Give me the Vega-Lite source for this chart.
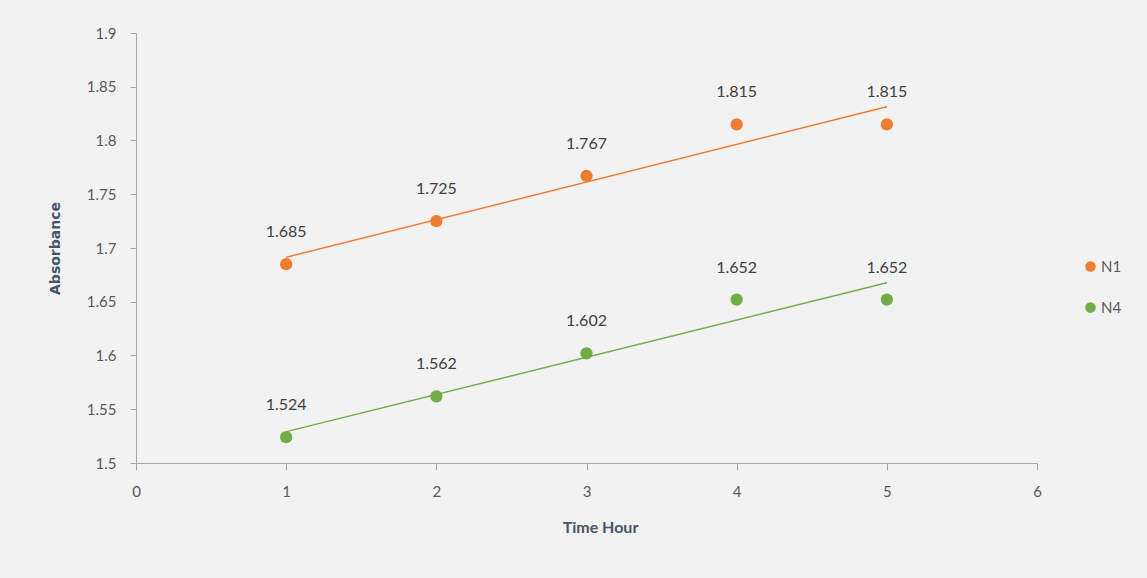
{
  "$schema": "https://vega.github.io/schema/vega-lite/v6.json",
  "width": 901,
  "height": 430,
  "autosize": "none",
  "padding": {"left": 136, "top": 33, "right": 110, "bottom": 115},
  "background": "#f2f2f2",
  "config": {
    "view": {"stroke": null},
    "font": "Lato",
    "axis": {
      "grid": false,
      "domainColor": "#a6a6a6",
      "tickColor": "#a6a6a6",
      "labelColor": "#595959",
      "labelFontSize": 15,
      "labelFont": "Lato",
      "labelOverlap": false,
      "titleColor": "#44546a",
      "titleFont": "Lato",
      "titleFontSize": 16,
      "titleFontWeight": "bold"
    }
  },
  "data": {
    "values": [
      {"hour": 1, "absorbance": 1.685, "series": "N1"},
      {"hour": 2, "absorbance": 1.725, "series": "N1"},
      {"hour": 3, "absorbance": 1.767, "series": "N1"},
      {"hour": 4, "absorbance": 1.815, "series": "N1"},
      {"hour": 5, "absorbance": 1.815, "series": "N1"},
      {"hour": 1, "absorbance": 1.524, "series": "N4"},
      {"hour": 2, "absorbance": 1.562, "series": "N4"},
      {"hour": 3, "absorbance": 1.602, "series": "N4"},
      {"hour": 4, "absorbance": 1.652, "series": "N4"},
      {"hour": 5, "absorbance": 1.652, "series": "N4"}
    ]
  },
  "encoding": {
    "x": {
      "field": "hour",
      "type": "quantitative",
      "scale": {"domain": [0, 6], "nice": false},
      "axis": {
        "title": "Time Hour",
        "values": [0, 1, 2, 3, 4, 5, 6],
        "format": "d",
        "labelFlush": false,
        "tickSize": 7,
        "labelPadding": 14,
        "titlePadding": 20,
        "titleX": 464
      }
    },
    "y": {
      "field": "absorbance",
      "type": "quantitative",
      "scale": {"domain": [1.5, 1.9], "nice": false, "zero": false},
      "axis": {
        "title": "Absorbance",
        "titleFont": "DejaVu Sans",
        "titleFontSize": 14,
        "values": [1.5, 1.55, 1.6, 1.65, 1.7, 1.75, 1.8, 1.85, 1.9],
        "format": ".2~f",
        "labelFlush": false,
        "tickSize": 6,
        "labelPadding": 14,
        "titlePadding": 24
      }
    },
    "color": {
      "field": "series",
      "type": "nominal",
      "scale": {"domain": ["N1", "N4"], "range": ["#ed7d31", "#70ad47"]},
      "legend": {
        "title": null,
        "orient": "none",
        "legendX": 947,
        "legendY": 226,
        "symbolType": "circle",
        "symbolSize": 110,
        "symbolStrokeWidth": 0,
        "labelFontSize": 15,
        "labelColor": "#595959",
        "labelOffset": 3,
        "rowPadding": 25
      }
    }
  },
  "layer": [
    {
      "transform": [
        {"regression": "absorbance", "on": "hour", "groupby": ["series"], "method": "linear", "extent": [1, 5]}
      ],
      "mark": {"type": "line", "strokeWidth": 1.5},
      "encoding": {}
    },
    {
      "mark": {"type": "circle", "size": 150, "opacity": 1}
    },
    {
      "mark": {"type": "text", "dy": -32, "fontSize": 16, "color": "#404040", "font": "Lato"},
      "encoding": {
        "text": {"field": "absorbance", "type": "quantitative", "format": ".3f"},
        "color": {"value": "#404040"}
      }
    }
  ]
}
